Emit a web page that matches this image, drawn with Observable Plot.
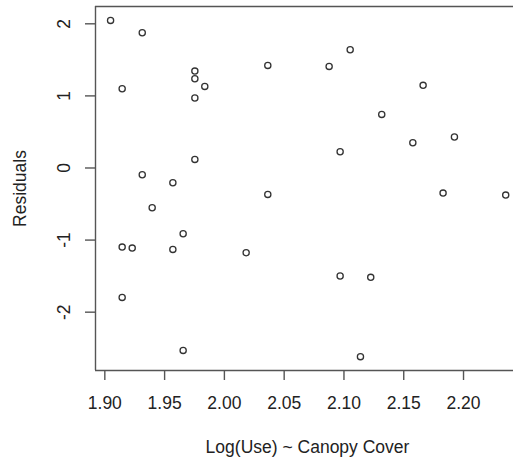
<!DOCTYPE html>
<html>
<head>
<meta charset="utf-8">
<script src="https://cdn.jsdelivr.net/npm/d3@7"></script>
<script src="https://cdn.jsdelivr.net/npm/@observablehq/plot@0.6"></script>
<style>
  html, body { margin: 0; padding: 0; background: #fff; }
  svg { display: block; }
</style>
</head>
<body>
<div id="chart"></div>
<script>
const fitted = [
  1.9048, 1.9313, 1.9145, 1.9753, 1.9753, 1.9836, 1.9753, 1.9753, 1.9313, 1.9569,
  1.9396, 1.9655, 1.9145, 1.9229, 1.9569, 2.0182, 1.9145, 1.9655,
  2.0363, 2.1052, 2.0876, 2.1662, 2.1316, 2.1924, 2.1576, 2.0968, 2.0363, 2.1829, 2.2353,
  2.0968, 2.1224, 2.1138
];
const residuals = [
  2.047, 1.876, 1.100, 1.344, 1.238, 1.132, 0.970, 0.119, -0.093, -0.204,
  -0.551, -0.912, -1.097, -1.111, -1.129, -1.175, -1.795, -2.530,
  1.423, 1.641, 1.409, 1.146, 0.743, 0.429, 0.351, 0.226, -0.366, -0.348, -0.376,
  -1.499, -1.517, -2.617
];
const xTicks = [1.90, 1.95, 2.00, 2.05, 2.10, 2.15, 2.20];
const yTicks = [-2, -1, 0, 1, 2];
const xLabel = "Log(Use) ~ Canopy Cover";
const yLabel = "Residuals";

const points = fitted.map((x, i) => ({x, y: residuals[i]}));
const xDomain = [1.8922, 2.2418];
const yDomain = [-2.809, 2.240];
const axisColor = "#555";
const textColor = "#222";
const font = "Liberation Sans, Arial, sans-serif";
const fs = 17.5;

const chart = Plot.plot({
  width: 513,
  height: 463,
  marginLeft: 95,
  marginRight: 0,
  marginTop: 6,
  marginBottom: 93,
  style: {fontFamily: font, fontSize: fs + "px", color: textColor, background: "#fff"},
  x: {domain: xDomain},
  y: {domain: yDomain},
  marks: [
    Plot.ruleY([yDomain[1]], {stroke: axisColor, strokeWidth: 1.4}),
    Plot.ruleY([yDomain[0]], {stroke: axisColor, strokeWidth: 1.4}),
    Plot.ruleX([xDomain[0]], {stroke: axisColor, strokeWidth: 1.4}),
    Plot.axisX({ticks: xTicks, tickSize: 10, tickPadding: 16, tickFormat: d3.format(".2f"),
      stroke: axisColor, strokeWidth: 1.4, fill: textColor, fontSize: fs, label: null}),
    Plot.axisY({ticks: yTicks, tickSize: 10, tickFormat: () => "",
      stroke: axisColor, strokeWidth: 1.4, label: null}),
    Plot.text(yTicks, {y: d => d, text: d => String(d), frameAnchor: "left", dx: -26,
      rotate: -90, textAnchor: "middle", lineAnchor: "bottom", fill: textColor, fontSize: fs}),
    Plot.text([yLabel], {text: d => d, frameAnchor: "left", dx: -75, rotate: -90,
      textAnchor: "middle", lineAnchor: "middle", fill: textColor, fontSize: fs}),
    Plot.text([xLabel], {text: d => d, frameAnchor: "bottom", dy: 77, dx: 3,
      textAnchor: "middle", lineAnchor: "middle", fill: textColor, fontSize: fs}),
    Plot.dot(points, {x: "x", y: "y", r: 3.1, stroke: "#333", strokeWidth: 1.3, fill: "none"})
  ]
});
document.getElementById("chart").appendChild(chart);
</script>
</body>
</html>
